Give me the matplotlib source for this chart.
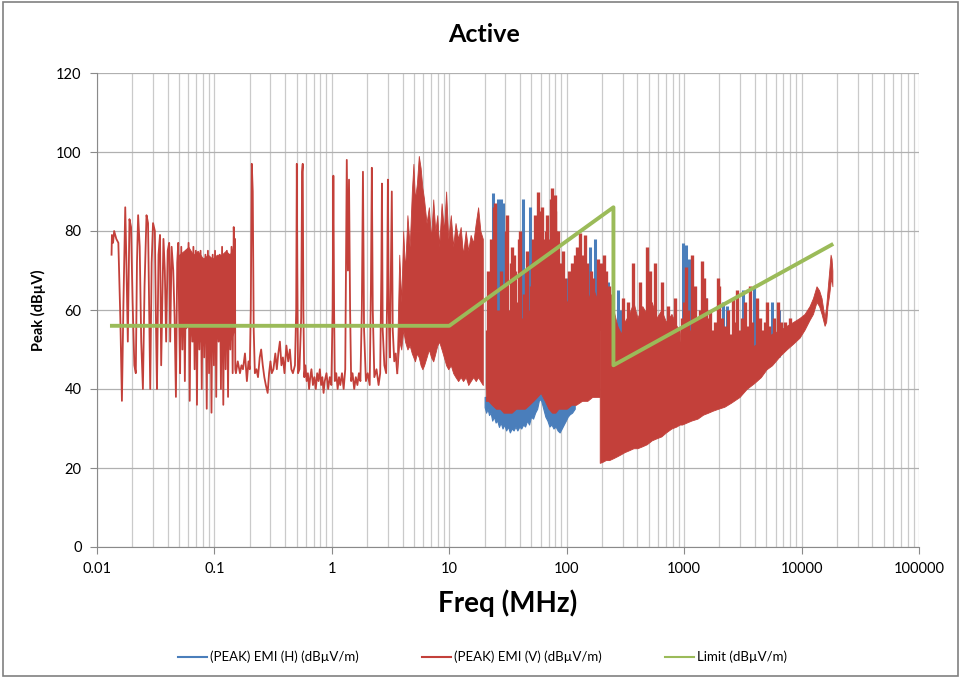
"""EMI scan, active case: peak H/V emissions against the limit line."""

import matplotlib
matplotlib.use("Agg")
import matplotlib.pyplot as plt
from matplotlib.lines import Line2D
from matplotlib.patches import Rectangle
from matplotlib.ticker import LogLocator, NullFormatter

plt.rcParams["font.family"] = ["Lato", "DejaVu Sans"]

# ---- axis ticks ----
x_ticks = [0.01, 0.1, 1, 10, 100, 1000, 10000, 100000]
x_tick_labels = ["0.01", "0.1", "1", "10", "100", "1000", "10000", "100000"]
y_ticks = [0, 20, 40, 60, 80, 100, 120]

# ---- limit line (MHz, dBuV/m) ----
limit_freq = [0.0134, 10, 250, 250, 18000]
limit_db = [56, 56, 86, 46, 76.5]

# ---- V trace, 0.013 - 3.6 MHz (line) ----
v_low_freq = [
    0.0133, 0.0134, 0.0137, 0.0140, 0.0146, 0.0152, 0.0158, 0.0163, 0.0168, 0.0174,
    0.0178, 0.0183, 0.0189, 0.0195, 0.0201, 0.0208, 0.0214, 0.0219, 0.0224, 0.0231,
    0.0238, 0.0246, 0.0254, 0.0264, 0.0272, 0.0279, 0.0284, 0.0292, 0.0300, 0.0311,
    0.0318, 0.0324, 0.0334, 0.0344, 0.0352, 0.0360, 0.0368, 0.0378, 0.0388, 0.0400,
    0.0412, 0.0420, 0.0432, 0.0446, 0.0458, 0.0470, 0.0482, 0.0492, 0.0500,
    0.0510, 0.0522, 0.0534, 0.0546, 0.0560, 0.0574, 0.0588, 0.0602, 0.0616, 0.0632,
    0.0648, 0.0662, 0.0678, 0.0694, 0.0710, 0.0726, 0.0744, 0.0762, 0.0780, 0.0798,
    0.0818, 0.0838, 0.0860, 0.0880, 0.0900, 0.0922, 0.0944, 0.0966, 0.0990, 0.1012,
    0.1036, 0.1060, 0.1086, 0.1110, 0.1136, 0.1162, 0.1190, 0.1218, 0.1246, 0.1276,
    0.1306, 0.1336, 0.1366, 0.1398, 0.1430, 0.1460, 0.1480, 0.1495, 0.1505,
    0.1524, 0.158, 0.165, 0.170, 0.175, 0.182, 0.189, 0.195, 0.200, 0.204,
    0.208, 0.212, 0.216, 0.221, 0.228, 0.235, 0.243, 0.250, 0.258, 0.266,
    0.274, 0.284, 0.292, 0.300, 0.308, 0.318, 0.330, 0.340, 0.350, 0.361,
    0.372, 0.383, 0.395, 0.410, 0.425, 0.439, 0.452, 0.466, 0.485, 0.497,
    0.503, 0.508, 0.515, 0.530, 0.548, 0.558, 0.565, 0.572, 0.582, 0.595,
    0.610, 0.625, 0.640, 0.655, 0.670, 0.690, 0.710, 0.730, 0.750, 0.770,
    0.790, 0.810, 0.830, 0.850, 0.870, 0.900, 0.930, 0.960, 0.990, 1.015,
    1.030, 1.045, 1.060, 1.090, 1.120, 1.150, 1.180, 1.220, 1.260, 1.300,
    1.320, 1.340, 1.370, 1.400, 1.430, 1.460, 1.500, 1.550, 1.600, 1.650,
    1.700, 1.750, 1.800, 1.840, 1.880, 1.950, 2.020, 2.100, 2.150, 2.190,
    2.230, 2.300, 2.400, 2.500, 2.580, 2.640, 2.670, 2.710, 2.800, 2.900,
    2.960, 3.000, 3.050, 3.120, 3.180, 3.240, 3.300, 3.400, 3.500, 3.600,
]
v_low_db = [
    74, 79, 77, 80, 78, 77, 58, 37, 62, 86,
    72, 52, 83, 81, 62, 46, 44, 72, 84, 76,
    52, 40, 66, 84, 82, 58, 40, 72, 82, 80,
    56, 40, 74, 79, 46, 62, 78, 70, 52, 75,
    77, 52, 76, 70, 58, 38, 72, 77, 60,
    44, 76, 50, 74, 42, 75, 56, 77, 37, 74,
    52, 76, 45, 75, 36, 74, 50, 75, 40, 73,
    48, 74, 35, 75, 44, 73, 34, 74, 46, 75,
    38, 73, 52, 74, 40, 76, 36, 74, 45, 75,
    38, 74, 50, 76, 44, 81, 76, 78, 45,
    44, 47, 44, 46, 45, 49, 42, 47, 45, 60,
    97, 90, 55, 44, 45, 43, 48, 50, 46, 43,
    41, 39, 44, 47, 44, 45, 49, 45, 49, 52,
    46, 48, 44, 51, 47, 50, 45, 44, 46, 60,
    97, 70, 44, 45, 58, 95, 97, 60, 43, 46,
    42, 44, 40, 43, 45, 41, 43, 40, 44, 42,
    45, 41, 43, 39, 42, 44, 40, 43, 41, 60,
    94, 60, 42, 44, 40, 43, 41, 44, 40, 45,
    70, 98, 70, 93, 60, 42, 44, 40, 43, 41,
    44, 42, 60, 95, 55, 42, 44, 41, 65, 96,
    60, 43, 45, 41, 44, 70, 92, 55, 46, 44,
    65, 93, 60, 48, 70, 90, 55, 47, 49, 44,
]

# ---- V trace, dense body 0.05 - 0.15 MHz ----
v_lfband_freq = [0.050, 0.055, 0.060, 0.066, 0.072, 0.080, 0.088, 0.096, 0.105, 0.115, 0.125, 0.135, 0.1495]
v_lfband_top = [74, 75, 76, 74, 75, 73, 74, 73, 74, 74, 75, 74, 77]
v_lfband_bot = [60, 55, 56, 52, 53, 51, 54, 50, 53, 52, 54, 52, 55]

# ---- V trace, dense body 3.6 - 19.3 MHz ----
v_band_freq = [
    3.60, 3.75, 3.90, 4.05, 4.20, 4.40, 4.60, 4.80, 4.95, 5.10,
    5.30, 5.50, 5.70, 5.90, 6.10, 6.40, 6.70, 7.00, 7.30, 7.60,
    7.90, 8.20, 8.60, 9.00, 9.40, 9.80, 10.3, 10.8, 11.3, 11.9,
    12.5, 13.1, 13.8, 14.5, 15.2, 16.0, 16.8, 17.6, 18.4, 19.3,
]
v_band_top = [
    50, 74, 62, 80, 70, 84, 76, 90, 97, 88,
    92, 99, 96, 91, 88, 82, 86, 78, 88, 80,
    84, 76, 87, 80, 90, 78, 84, 76, 82, 78,
    81, 74, 80, 75, 79, 77, 82, 86, 80, 78,
]
v_band_bot = [
    44, 52, 50, 55, 52, 50, 51, 49, 48, 47,
    49, 48, 46, 45, 46, 48, 50, 48, 47, 49,
    51, 52, 50, 48, 46, 45, 46, 44, 43, 42,
    43, 42, 43, 41, 42, 43, 42, 43, 42, 41,
]

# ---- V floor 20.5 - 191 MHz ----
v_floor_freq = [20.5, 21.5, 23, 25, 27, 29, 31, 34, 37, 40,
                44, 48, 52, 56, 60, 65, 70, 75, 80, 85,
                90, 100, 110, 120, 135, 150, 165, 180, 191]
v_floor_top = [44, 43, 44, 42, 43, 41, 42, 40, 41, 40,
               41, 42, 48, 52, 50, 55, 49, 53, 50, 52,
               60, 62, 64, 60, 65, 62, 66, 63, 64]
v_floor_bot = [37, 37, 36, 35, 35, 34, 34, 34, 35, 35,
               35, 36, 37, 38, 39, 37, 35, 34, 34, 35,
               35, 35, 36, 36, 37, 37, 38, 38, 38]

# ---- V body 191 MHz - 18.3 GHz ----
v_uhf_freq = [
    191, 200, 215, 230, 250, 270, 290, 310, 340, 370,
    400, 440, 480, 530, 580, 640, 700, 780, 860, 916,
    960, 1050, 1150, 1300, 1450, 1600, 1750, 1950, 2200, 2500,
    2970, 3400, 3950, 4500, 5035, 5600, 6600, 7450, 8500, 9620,
    10600, 11700, 12500, 13400, 14100, 14800, 15700, 16200, 16630, 17200,
    17660, 18000, 18300,
]
v_uhf_top = [
    68, 66, 62, 64, 60, 56, 54, 57, 59, 62,
    58, 61, 59, 62, 58, 60, 57, 59, 56, 55,
    46, 44, 43, 45, 44, 46, 45, 47, 46, 48,
    49, 50, 51, 52, 53, 54, 55, 56, 57, 58,
    59, 61, 63, 66, 65, 63, 58, 61, 65, 70,
    74, 73, 70,
]
v_uhf_bot = [
    21.3, 21.5, 22, 22, 22.5, 23, 23.5, 24, 24.5, 25,
    25, 25.5, 26, 27, 27.5, 28, 29, 30, 30.5, 31,
    31, 31.5, 32, 32.5, 33.5, 34, 34.5, 35, 35.5, 36.5,
    38, 40, 41.5, 43, 45, 46, 48.5, 50, 51.5, 53,
    55, 57.5, 59, 62, 61, 59, 56, 57, 61, 64,
    67, 68, 66,
]

# ---- V narrow spikes (MHz, base dB, peak dB) ----
v_spike_freq = [
    21.2, 22.6, 24.0, 24.4, 26.0, 27.3, 30.4, 30.9, 33.6, 34.2,
    35.6, 36.3, 39.4, 40.0, 44.8, 45.7, 52.0, 53.4, 55.5, 56.6,
    57.8, 61.2, 62.5, 64.5, 66.0, 67.6, 72.0, 73.5, 74.5, 75.8,
    77.5, 79.0, 81.0, 83.8, 86.0, 89.0, 92.5, 97.0, 105, 112,
    117, 123, 129, 135, 142, 148, 162, 167, 184, 190,
    195, 202, 208, 215, 228, 242, 300, 330, 365, 418,
    480, 508, 560, 644, 724, 830, 1030, 1080, 1160, 1230,
    1320, 1410, 1490, 1550, 1650, 1750, 1930, 2000, 2100, 2350,
    2590, 2810, 3100, 3300, 3610, 4140, 4400, 4840, 5035, 6250,
    7160, 20.8, 22.0, 25.2, 28.0, 29.5, 32.0, 37.5, 41.5, 43.0,
    47.0, 49.5, 51.0, 54.3, 58.8, 60.0, 63.3, 68.8, 70.5, 76.5,
    80.0, 82.5, 84.8, 950, 1000, 1120, 1190, 1270, 1370, 1450,
    1600, 1700, 1820, 2250, 2450, 2700, 2950, 3450, 3800, 4600,
    5300, 5800, 6700, 8000,
]
v_spike_base = [
    40, 40, 40, 40, 40, 40, 40, 40, 40, 40,
    40, 40, 40, 40, 40, 40, 40, 40, 40, 40,
    40, 40, 40, 40, 40, 40, 40, 40, 40, 40,
    40, 40, 40, 40, 45, 55, 55, 55, 55, 55,
    55, 55, 55, 55, 55, 55, 55, 55, 55, 55,
    55, 55, 55, 55, 55, 55, 50, 50, 50, 50,
    50, 50, 50, 50, 50, 50, 38, 38, 38, 38,
    38, 38, 38, 38, 38, 38, 40, 40, 40, 40,
    42, 42, 44, 44, 45, 46, 46, 48, 48, 50,
    52, 40, 40, 40, 40, 40, 40, 40, 40, 40,
    40, 40, 40, 45, 45, 45, 45, 45, 45, 45,
    45, 45, 45, 38, 38, 38, 38, 38, 38, 38,
    38, 40, 40, 40, 40, 42, 42, 44, 45, 46,
    48, 50, 52, 54,
]
v_spike_db = [
    70, 78, 86, 87, 60, 70, 80, 84, 72, 76,
    74, 70, 78, 80, 70, 75, 78, 84, 80, 90,
    85, 86, 78, 74, 80, 84, 75, 88, 91, 86,
    78, 89, 80, 80, 70, 72, 75, 68, 70, 72,
    74, 76, 79.5, 74, 79, 72, 70, 68, 73, 71,
    72, 69, 74, 70, 66, 64, 63, 62, 72, 67,
    76, 70, 72, 67, 61, 63, 71, 60, 74, 66,
    58, 72.5, 68, 63, 60, 55, 68, 66, 58, 60,
    63, 65, 58, 62, 66, 63, 58, 57, 62, 62,
    57, 55, 65, 58, 62, 66, 60, 62, 58, 64,
    60, 66, 72, 76, 80, 74, 70, 78, 72, 82,
    85, 74, 72, 58, 62, 55, 60, 56, 60, 55,
    58, 54, 57, 56, 54, 57, 55, 56, 57, 55,
    56, 58, 57, 58,
]

# ---- H trace: floor band 20 - 117 MHz ----
h_floor_freq = [
    20.0, 20.6, 21.2, 21.8, 22.5, 23.2, 24.0, 24.8, 25.6, 26.5,
    27.4, 28.4, 29.4, 30.5, 31.6, 32.8, 34.0, 35.3, 36.6, 38.0,
    39.5, 41.0, 42.6, 44.2, 46.0, 47.8, 49.7, 51.7, 53.8, 56.0,
    58.3, 60.7, 63.2, 65.8, 68.5, 71.3, 74.2, 77.2, 80.4, 83.7,
    87.1, 90.7, 94.4, 98.3, 102, 106, 111, 117,
]
h_floor_bot = [
    35.4, 34, 35, 33.4, 34, 32, 33, 31.5, 32, 30.4,
    31.5, 30, 31, 29.5, 30.5, 29, 30, 29.5, 30.5, 29.5,
    30.5, 30, 31, 30.5, 32, 31, 33, 32.5, 34, 35,
    37.5, 37, 35, 33, 32, 30.5, 31, 30, 30.5, 29.5,
    29, 30, 31, 32, 33, 33.6, 34, 35,
]
h_floor_top = [
    38, 38, 38, 38, 38, 38, 38, 38, 38, 38,
    38, 38, 38, 38, 38, 38, 38, 38, 38, 38,
    38, 38, 38, 38, 38, 38, 38, 38, 38, 39,
    40, 40, 39, 38, 38, 38, 38, 38, 38, 38,
    38, 38, 38, 38, 38, 38, 38, 38,
]

# ---- H narrow spikes (MHz, base dB, peak dB) ----
h_spike_freq = [23.4, 25.9, 26.6, 27.4, 28.5, 42.2, 48.4, 102, 157, 173,
                223, 272, 285, 300, 970, 1045, 1100, 1215, 1540, 2150,
                2340, 3200, 3950, 4200, 5600, 6400]
h_spike_base = [36, 36, 36, 36, 36, 36, 36, 36, 50, 50,
                50, 48, 48, 48, 38, 38, 38, 38, 38, 40,
                40, 42, 44, 44, 48, 48]
h_spike_db = [89.6, 88, 87, 88, 87, 88, 86, 68, 76, 78,
              67, 65, 60, 58, 77, 76.5, 73, 63, 63, 62,
              61, 65, 66, 62.5, 62, 60]

RED = "#c3403a"
BLUE = "#4a7ebb"
GREEN = "#9bbb59"
W, H = 961, 679

fig = plt.figure(figsize=(W / 100, H / 100), dpi=100)
ax = fig.add_axes([97 / W, 1 - 547 / H, (919 - 97) / W, (547 - 73) / H])

# H (blue) first, red drawn over it
ax.fill_between(h_floor_freq, h_floor_bot, h_floor_top, color=BLUE, lw=0.8, zorder=2)
ax.vlines(h_spike_freq, h_spike_base, h_spike_db, color=BLUE, lw=2.2, zorder=2)

ax.plot(v_low_freq, v_low_db, color=RED, lw=1.3, zorder=3)
for f, top, bot in [
    (v_lfband_freq, v_lfband_top, v_lfband_bot),
    (v_band_freq, v_band_top, v_band_bot),
    (v_floor_freq, v_floor_top, v_floor_bot),
    (v_uhf_freq, v_uhf_top, v_uhf_bot),
]:
    ax.fill_between(f, bot, top, color=RED, lw=0.6, zorder=3)
ax.vlines(v_spike_freq, v_spike_base, v_spike_db, color=RED, lw=2.4, zorder=3)

ax.plot(limit_freq, limit_db, color=GREEN, lw=2.8, zorder=4)

ax.set_xscale("log")
ax.set_xlim(x_ticks[0], x_ticks[-1])
ax.set_ylim(y_ticks[0], y_ticks[-1])
ax.set_xticks(x_ticks)
ax.set_xticklabels(x_tick_labels)
ax.xaxis.set_minor_locator(LogLocator(base=10, subs=range(2, 10), numticks=20))
ax.xaxis.set_minor_formatter(NullFormatter())
ax.set_yticks(y_ticks)
ax.grid(axis="x", which="both", color="#cacaca", lw=0.9)
ax.grid(axis="y", which="major", color="#b0b0b0", lw=0.9)
ax.set_axisbelow(True)
for side in ("top", "right"):
    ax.spines[side].set_visible(False)
for side in ("left", "bottom"):
    ax.spines[side].set_color("#8a8a8a")
ax.tick_params(which="major", length=5, color="#8a8a8a", labelsize=10.5, pad=6)
ax.tick_params(which="minor", length=0)

fig.text(484 / W, 1 - 35 / H, "Active", ha="center", va="center", fontsize=18, fontweight="bold")
fig.text(508 / W, 1 - 603 / H, "Freq (MHz)", ha="center", va="center", fontsize=20, fontweight="bold")
fig.text(38 / W, 1 - 310 / H, "Peak (dB\u00b5V)", ha="center", va="center", rotation=90,
         fontsize=10.5, fontweight="bold")

handles = [Line2D([], [], color=BLUE, lw=1.5), Line2D([], [], color=RED, lw=1.5),
           Line2D([], [], color=GREEN, lw=1.5)]
labels = ["(PEAK) EMI (H) (dB\u00b5V/m)", "(PEAK) EMI (V) (dB\u00b5V/m)", "Limit (dB\u00b5V/m)"]
fig.legend(handles, labels, loc="center", bbox_to_anchor=(0.502, 1 - 657 / H), ncol=3,
           frameon=False, fontsize=9.5, handlelength=2.2, handletextpad=0.2, columnspacing=4.8)

fig.patches.append(Rectangle((0.003, 0.004), 0.994, 0.993, transform=fig.transFigure,
                             fill=False, edgecolor="#808080", lw=1.2))

fig.savefig("out.png", dpi=100)
